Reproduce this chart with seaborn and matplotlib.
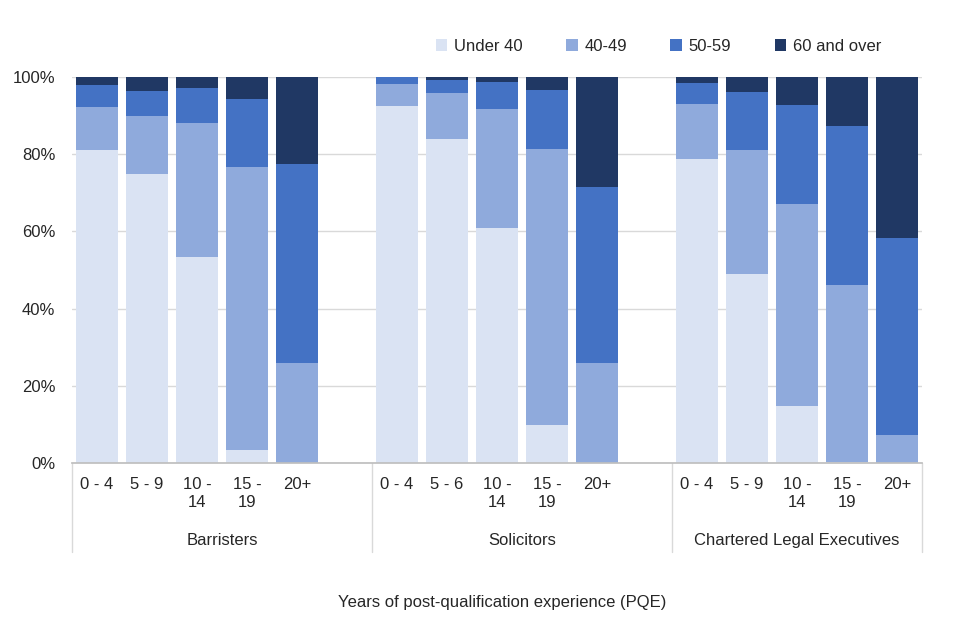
import numpy as np
import pandas as pd
import matplotlib
matplotlib.use("Agg")
import matplotlib.pyplot as plt
from matplotlib.patches import Patch
import seaborn as sns

# categories
professions = ["Barristers", "Solicitors", "Chartered Legal Executives"]
pqe_labels = {
    "Barristers": ["0 - 4", "5 - 9", "10 -\n14", "15 -\n19", "20+"],
    "Solicitors": ["0 - 4", "5 - 6", "10 -\n14", "15 -\n19", "20+"],
    "Chartered Legal Executives": ["0 - 4", "5 - 9", "10 -\n14", "15 -\n19", "20+"],
}
bands = ["Under 40", "40-49", "50-59", "60 and over"]
colours = ["#DAE3F3", "#8FAADC", "#4472C4", "#203864"]

# percentages
under_40 = {
    "Barristers": [81.2, 74.8, 53.3, 3.3, 0.0],
    "Solicitors": [92.4, 83.9, 61.0, 9.9, 0.0],
    "Chartered Legal Executives": [78.7, 49.0, 14.8, 0.3, 0.0],
}
age_40_49 = {
    "Barristers": [11.0, 15.1, 34.7, 73.3, 26.0],
    "Solicitors": [5.8, 11.9, 30.6, 71.5, 26.0],
    "Chartered Legal Executives": [14.4, 32.2, 52.3, 45.9, 7.3],
}
age_50_59 = {
    "Barristers": [5.6, 6.6, 9.1, 17.8, 51.5],
    "Solicitors": [1.8, 3.4, 7.0, 15.3, 45.6],
    "Chartered Legal Executives": [5.3, 15.0, 25.6, 41.1, 51.0],
}
age_60_over = {
    "Barristers": [2.2, 3.5, 2.9, 5.6, 22.5],
    "Solicitors": [0.0, 0.8, 1.4, 3.3, 28.4],
    "Chartered Legal Executives": [1.6, 3.8, 7.3, 12.7, 41.7],
}
series = [under_40, age_40_49, age_50_59, age_60_over]

# build a long table, one blank slot between professions
rows = []
for g, prof in enumerate(professions):
    for i, lab in enumerate(pqe_labels[prof]):
        pos = g * 6 + i
        cum = 0.0
        for band, s in zip(bands, series):
            cum += s[prof][i]
            rows.append({"pos": pos, "profession": prof, "pqe": lab,
                         "band": band, "value": s[prof][i], "cum": cum})
df = pd.DataFrame(rows)

sns.set_theme(style="white")
plt.rcParams["font.family"] = ["Liberation Sans", "DejaVu Sans"]
text_col = "#262626"

fig = plt.figure(figsize=(9.6, 6.4), dpi=100)
ax = fig.add_axes([0.075, 0.2766, 0.8854, 0.6031])

# stacked bars: draw cumulative totals from the top band down
for band, col in reversed(list(zip(bands, colours))):
    sub = df[df["band"] == band]
    sns.barplot(data=sub, x="pos", y="cum", native_scale=True, color=col,
                saturation=1, width=0.84, errorbar=None, edgecolor="none", ax=ax)

ax.set_xlim(-0.5, 16.5)
ax.set_ylim(0, 100)
ax.set_yticks(np.arange(0, 101, 20))
ax.set_yticklabels([f"{v}%" for v in range(0, 101, 20)], fontsize=12, color=text_col)
ax.yaxis.grid(True, color="#D9D9D9", linewidth=1)
ax.set_axisbelow(True)
for sp in ["left", "right", "top"]:
    ax.spines[sp].set_visible(False)
ax.spines["bottom"].set_color("#BFBFBF")
ax.tick_params(axis="y", length=0, pad=12)

ticks = df.drop_duplicates("pos")
ax.set_xticks(ticks["pos"].to_numpy())
ax.set_xticklabels(ticks["pqe"], fontsize=12, color=text_col, linespacing=1.3, va="top")
ax.tick_params(axis="x", length=0, pad=10)
ax.set_xlabel("")
ax.set_ylabel("")

# outer category level
trans = ax.get_xaxis_transform()
for x in [-0.5, 5.5, 11.5, 16.5]:
    ax.plot([x, x], [0, -0.23], transform=trans, color="#D9D9D9", lw=1, clip_on=False)
spans = [(-0.5, 5.5), (5.5, 11.5), (11.5, 16.5)]
for prof, (a, b) in zip(professions, spans):
    ax.text((a + b) / 2, -0.2, prof, transform=trans, ha="center", va="center",
            fontsize=12, color=text_col)

fig.text(0.523, 0.058, "Years of post-qualification experience (PQE)",
         ha="center", va="center", fontsize=12, color=text_col)

handles = [Patch(facecolor=c, edgecolor="none", label=b) for b, c in zip(bands, colours)]
fig.legend(handles=handles, loc="center", bbox_to_anchor=(0.686, 0.928), ncol=4,
           frameon=False, fontsize=12, handlelength=0.7, handleheight=0.7,
           handletextpad=0.4, columnspacing=2.6, labelcolor=text_col)

fig.savefig("out.png", dpi=100)
